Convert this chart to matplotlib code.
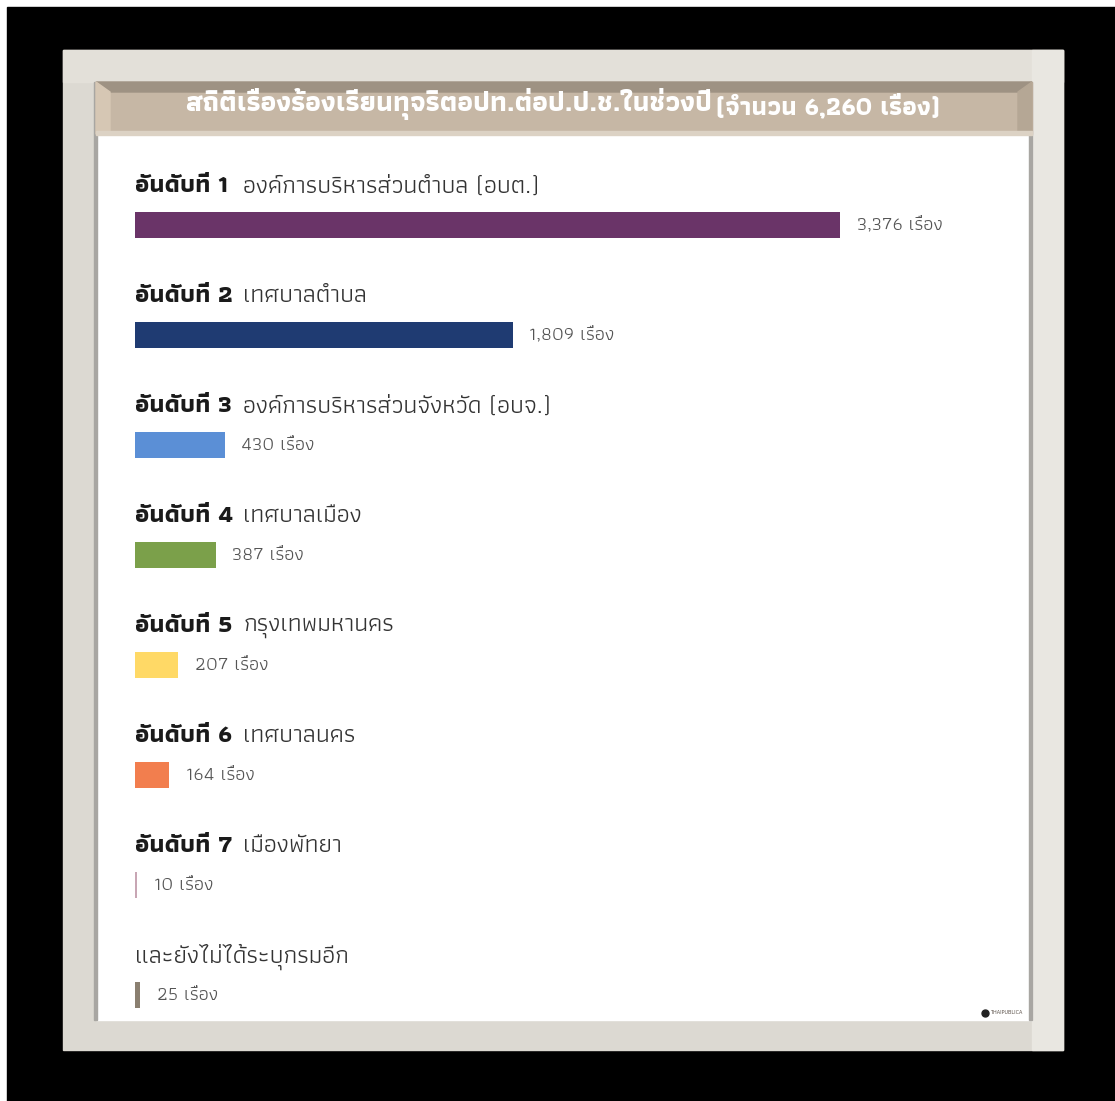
import matplotlib
matplotlib.use("Agg")
import matplotlib.pyplot as plt
from matplotlib.patches import Rectangle, Polygon

plt.rcParams['font.family'] = ['Athiti', 'DejaVu Sans']

title = "สถิติเรื่องร้องเรียนทุจริตอปท.ต่อป.ป.ช.ในช่วงปี"
subtitle = "(จำนวน 6,260 เรื่อง)"
ranks = ["อันดับที่ 1", "อันดับที่ 2", "อันดับที่ 3", "อันดับที่ 4",
         "อันดับที่ 5", "อันดับที่ 6", "อันดับที่ 7", ""]
names = ["องค์การบริหารส่วนตำบล (อบต.)", "เทศบาลตำบล",
         "องค์การบริหารส่วนจังหวัด (อบจ.)", "เทศบาลเมือง",
         "กรุงเทพมหานคร", "เทศบาลนคร", "เมืองพัทยา",
         "และยังไม่ได้ระบุกรมอีก"]
values = [3376, 1809, 430, 387, 207, 164, 10, 25]
colors = ["#6A3468", "#1F3B72", "#5B8FD6", "#7BA04A",
          "#FFD966", "#F27E4E", "#C8A6B4", "#8A7F70"]

W, H = 1115, 1101
fig = plt.figure(figsize=(W / 100, H / 100), dpi=100)

# frame in pixel coordinates
bg = fig.add_axes([0, 0, 1, 1])
bg.set_xlim(0, W)
bg.set_ylim(H, 0)
bg.axis('off')
bg.add_patch(Rectangle((7, 7), W - 7, H - 7, color='black'))
bg.add_patch(Rectangle((63, 50), 1000, 1000, color='#DCD9D2'))
bg.add_patch(Rectangle((63, 50), 1000, 32, color='#E3E0D9'))
bg.add_patch(Rectangle((1032, 50), 31, 1000, color='#E9E7E1'))
bg.add_patch(Rectangle((96, 82), 936, 938, color='white'))
bg.add_patch(Rectangle((94, 82), 3, 938, color='#A8A6A2'))
bg.add_patch(Rectangle((1029, 82), 3, 938, color='#A8A6A2'))
# header band with bevels
bg.add_patch(Rectangle((96, 82), 936, 52, color='#C6B7A5'))
bg.add_patch(Polygon([(96, 82), (1032, 82), (1018, 92), (110, 92)], color='#9E9283'))
bg.add_patch(Polygon([(96, 82), (110, 92), (110, 134), (96, 134)], color='#D6C7B4'))
bg.add_patch(Polygon([(1032, 82), (1018, 92), (1018, 134), (1032, 134)], color='#B5A795'))
bg.add_patch(Rectangle((96, 131), 936, 4, color='#DCD2C4'))
bg.text(185, 104, title, color='white', fontsize=20, fontweight='bold',
        ha='left', va='center')
bg.text(716, 106, subtitle, color='white', fontsize=18.5, fontweight='bold',
        ha='left', va='center')
# logo
bg.plot([985], [1013], marker='o', color='#222222', markersize=5)
bg.text(990, 1012, "THAIPUBLICA", fontsize=3.5, color='#5A5048',
        va='center', ha='left', family=['DejaVu Sans'])

# bars
scale = 0.2088  # pixels per case
x0 = 135
ax = fig.add_axes([x0 / W, 1 - 1050 / H, 835 / W, 880 / H])
ax.set_xlim(0, 835 / scale)
ax.set_ylim(7.5, -0.5)
ax.axis('off')
rows = list(range(len(values)))
ax.barh(rows, values, height=0.24, color=colors, zorder=3)
for i in rows:
    ty = i - 0.35
    if ranks[i]:
        ax.text(0, ty, ranks[i], fontsize=18, fontweight='bold',
                color='#1A1A1A', va='center', ha='left')
        ax.annotate(names[i], xy=(0, ty), xytext=(78, 0),
                    textcoords='offset points', fontsize=18,
                    color='#333333', va='center', ha='left')
    else:
        ax.text(0, ty, names[i], fontsize=18, color='#333333',
                va='center', ha='left')
    ax.annotate("{:,} เรื่อง".format(values[i]), xy=(values[i], i),
                xytext=(12, 0), textcoords='offset points', fontsize=14,
                color='#555555', va='center', ha='left')

fig.savefig("out.png", dpi=100)
